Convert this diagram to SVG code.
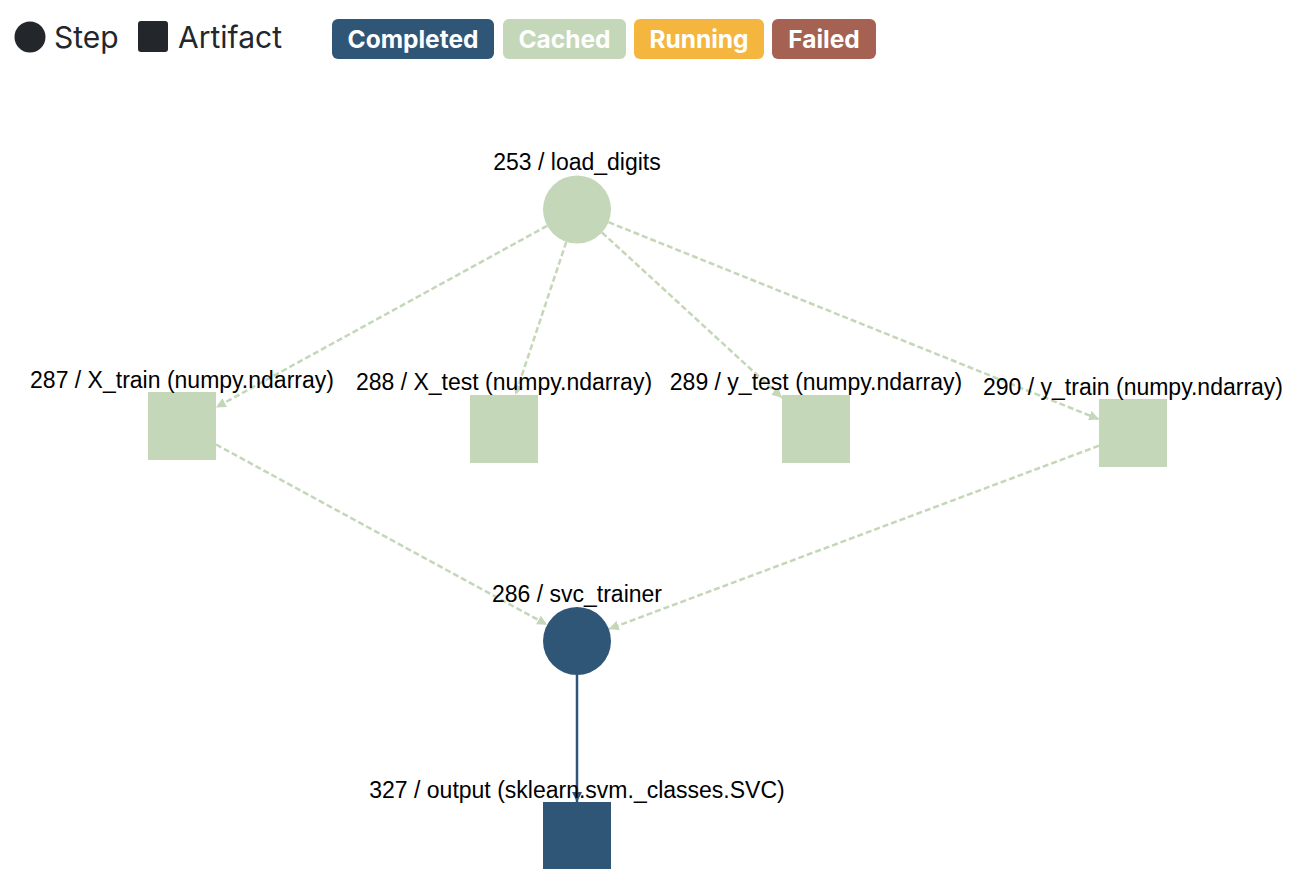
<svg xmlns="http://www.w3.org/2000/svg" width="1306" height="888" viewBox="0 0 1306 888">
<style>
.bg{fill:#ffffff}
.lg{font-family:Inter,"Liberation Sans",sans-serif;font-size:30px;fill:#23272c}
.badge-t{font-family:Inter,"Liberation Sans",sans-serif;font-size:24.5px;font-weight:700;fill:#ffffff;text-anchor:middle}
.lbl{font-family:"Liberation Sans",Arial,sans-serif;font-size:23px;fill:#000000;text-anchor:middle}
.cached{fill:#c4d7b8}
.done{fill:#2f5677}
.e-cached{stroke:#c4d7b8;stroke-width:2.5;stroke-dasharray:6 3;fill:none}
.e-done{stroke:#2f5677;stroke-width:2.5;fill:none}
</style>
<defs>
<marker id="arr-c" viewBox="0 0 10 10" refX="10" refY="5" markerWidth="10" markerHeight="10" markerUnits="userSpaceOnUse" orient="auto">
<path d="M0,0 L10,5 L0,10 z" fill="#c4d7b8"/>
</marker>
<marker id="arr-d" viewBox="0 0 10 10" refX="10" refY="5" markerWidth="10" markerHeight="10" markerUnits="userSpaceOnUse" orient="auto">
<path d="M0,0 L10,5 L0,10 z" fill="#2f5677"/>
</marker>
</defs>
<rect class="bg" x="0" y="0" width="1306" height="888"/>
<g id="legend">
<circle cx="30" cy="37" r="15.5" fill="#23272c"/>
<text class="lg" x="54" y="48">Step</text>
<rect x="138" y="21" width="30" height="31" rx="3" fill="#23272c"/>
<text class="lg" x="178" y="48">Artifact</text>
<rect x="332" y="19" width="162" height="40" rx="6" fill="#2f5677"/>
<text class="badge-t" x="413" y="48">Completed</text>
<rect x="503" y="19" width="123" height="40" rx="6" fill="#c4d7b8"/>
<text class="badge-t" x="564.5" y="48">Cached</text>
<rect x="634" y="19" width="130" height="40" rx="6" fill="#f4b63f"/>
<text class="badge-t" x="699" y="48">Running</text>
<rect x="772" y="19" width="104" height="40" rx="6" fill="#a56152"/>
<text class="badge-t" x="824" y="48">Failed</text>
</g>
<g id="connectors">
<line class="e-cached" x1="547.2" y1="225.8" x2="216" y2="407.4" marker-end="url(#arr-c)"/>
<line class="e-cached" x1="566.3" y1="241.8" x2="515.3" y2="395" marker-end="url(#arr-c)"/>
<line class="e-cached" x1="602" y1="232.5" x2="782" y2="397.8" marker-end="url(#arr-c)"/>
<line class="e-cached" x1="608.5" y1="222.2" x2="1099" y2="419.3" marker-end="url(#arr-c)"/>
<line class="e-cached" x1="216" y1="444.5" x2="547.1" y2="624.7" marker-end="url(#arr-c)"/>
<line class="e-cached" x1="1099" y1="445.7" x2="608.8" y2="629.1" marker-end="url(#arr-c)"/>
<line class="e-done" x1="577" y1="675" x2="577" y2="802" marker-end="url(#arr-d)"/>
</g>
<g id="node-253">
<circle class="cached" cx="577" cy="209.5" r="34"/>
<text class="lbl" x="577" y="170">253 / load_digits</text>
</g>
<g id="node-287">
<rect class="cached" x="148" y="392" width="68" height="68"/>
<text class="lbl" x="182" y="388">287 / X_train (numpy.ndarray)</text>
</g>
<g id="node-288">
<rect class="cached" x="470" y="395" width="68" height="68"/>
<text class="lbl" x="504" y="390">288 / X_test (numpy.ndarray)</text>
</g>
<g id="node-289">
<rect class="cached" x="782" y="395" width="68" height="68"/>
<text class="lbl" x="816" y="390">289 / y_test (numpy.ndarray)</text>
</g>
<g id="node-290">
<rect class="cached" x="1099" y="399" width="68" height="68"/>
<text class="lbl" x="1133" y="395">290 / y_train (numpy.ndarray)</text>
</g>
<g id="node-286">
<circle class="done" cx="577" cy="641" r="34"/>
<text class="lbl" x="577" y="602">286 / svc_trainer</text>
</g>
<g id="node-327">
<rect class="done" x="543" y="802" width="68" height="67"/>
<text class="lbl" x="577" y="798">327 / output (sklearn.svm._classes.SVC)</text>
</g>
</svg>
